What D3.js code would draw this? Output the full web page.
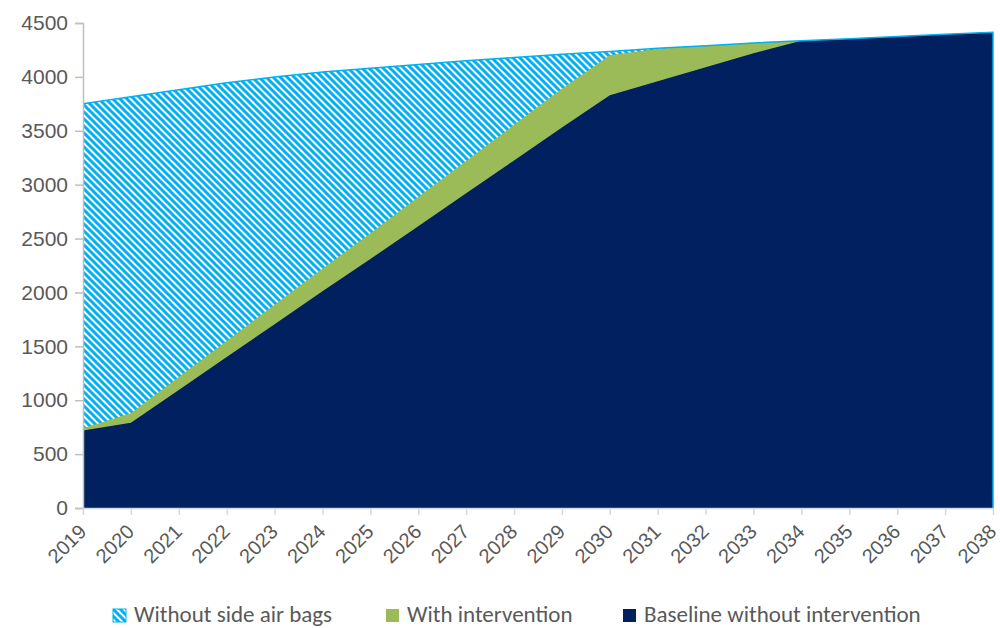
<!DOCTYPE html>
<html>
<head>
<meta charset="utf-8">
<script src="https://cdn.jsdelivr.net/npm/d3@7"></script>
<style>
  body { margin: 0; background: #fff; }
  svg { font-family: Carlito, Calibri, Lato, sans-serif; }
</style>
</head>
<body>
<svg id="chart" width="1000" height="628"></svg>
<script>
let years = d3.range(2019, 2039);
let withoutAirbags = [3750, 3815, 3880, 3945, 4000, 4045, 4080, 4115, 4150, 4180, 4210, 4235, 4265, 4290, 4315, 4335, 4355, 4375, 4395, 4415];
let withIntervention = [740, 880, 1215, 1550, 1885, 2220, 2550, 2885, 3220, 3555, 3890, 4200, 4260, 4290, 4315, 4335, 4355, 4375, 4395, 4415];
let baseline = [720, 790, 1095, 1400, 1705, 2010, 2310, 2615, 2920, 3225, 3530, 3830, 3960, 4090, 4220, 4335, 4355, 4375, 4395, 4415];
let yTicks = [0, 500, 1000, 1500, 2000, 2500, 3000, 3500, 4000, 4500];
let seriesNames = ['Without side air bags', 'With intervention', 'Baseline without intervention'];

let cyan = '#00B0F0', green = '#9BBB59', navy = '#002060', textCol = '#595959';

let svg = d3.select('#chart');

// hatch pattern
let defs = svg.append('defs');
let pat = defs.append('pattern')
  .attr('id', 'hatch')
  .attr('patternUnits', 'userSpaceOnUse')
  .attr('width', 7).attr('height', 7);
pat.append('rect').attr('width', 7).attr('height', 7).attr('fill', '#fff');
pat.append('path')
  .attr('d', 'M-3.5,-3.5 L10.5,10.5 M-3.5,3.5 L3.5,10.5 M3.5,-3.5 L10.5,3.5')
  .attr('stroke', cyan).attr('stroke-width', 3);

let xScale = d3.scaleLinear().domain([2019, 2038]).range([83, 993]);
let yScale = d3.scaleLinear().domain([0, 4500]).range([508, 23]);

let area = d3.area()
  .x((d, i) => xScale(years[i]))
  .y0(yScale(0))
  .y1(d => yScale(d));

svg.append('path').attr('d', area(withoutAirbags)).attr('fill', 'url(#hatch)');
svg.append('path').attr('d', area(withIntervention)).attr('fill', green);
svg.append('path').attr('d', area(baseline)).attr('fill', navy);

// outline of the hatched series
let topLine = d3.line().x((d, i) => xScale(years[i])).y(d => yScale(d));
svg.append('path')
  .attr('d', topLine(withoutAirbags) + 'L' + xScale(2038) + ',' + yScale(0))
  .attr('fill', 'none').attr('stroke', cyan).attr('stroke-width', 1.5);

// y axis
let yAxis = d3.axisLeft(yScale).tickValues(yTicks).tickFormat(d3.format('d')).tickSize(8).tickPadding(7);
let gy = svg.append('g').attr('transform', 'translate(83,0)').call(yAxis);
gy.select('.domain').attr('stroke', '#BFBFBF').attr('stroke-width', 1.5);
gy.selectAll('.tick line').attr('stroke', '#BFBFBF').attr('stroke-width', 1.5);
gy.selectAll('.tick text').attr('fill', textCol).style('font-size', '21px');

// x axis
let xAxis = d3.axisBottom(xScale).tickValues(years).tickFormat(d3.format('d')).tickSize(7).tickSizeOuter(0);
let gx = svg.append('g').attr('transform', 'translate(0,508)').call(xAxis);
gx.select('.domain').attr('stroke', '#CDD7DE').attr('stroke-width', 1.5);
gx.selectAll('.tick line').attr('stroke', '#D9D9D9').attr('stroke-width', 1.5);
gx.selectAll('.tick text')
  .attr('fill', textCol)
  .style('font-size', '20px')
  .attr('text-anchor', 'end')
  .attr('dy', null)
  .attr('y', 0)
  .attr('transform', 'translate(4,25) rotate(-45)');

// legend
let legendX = [113, 386, 623];
let legendFill = ['url(#hatch)', green, navy];
let lg = svg.append('g').selectAll('g').data(seriesNames).enter().append('g')
  .attr('transform', (d, i) => `translate(${legendX[i]},609)`);
lg.append('rect').attr('width', 13).attr('height', 13)
  .attr('fill', (d, i) => legendFill[i])
  .attr('stroke', (d, i) => i === 0 ? cyan : 'none');
lg.append('text').attr('x', 21).attr('y', 13)
  .attr('fill', textCol).style('font-size', '23px')
  .text(d => d);
</script>
</body>
</html>
